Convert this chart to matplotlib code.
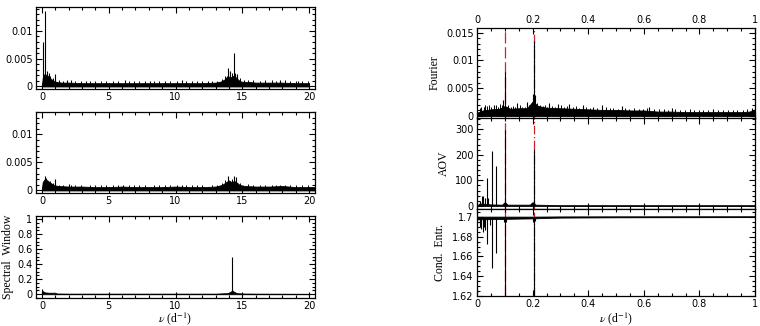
import numpy as np
import matplotlib
matplotlib.use("Agg")
import matplotlib.pyplot as plt
from matplotlib.ticker import MultipleLocator, FuncFormatter


# --- left column: wide-range spectra (0-20 c/d) ---
# noise band envelope (frequency knots, top of band)
f1 = [0.0, 0.05, 0.15, 0.3, 0.5, 0.7, 0.9, 1.1, 1.5, 2.0, 3, 4, 5, 6, 7, 8, 9, 10,
      11, 12, 13, 13.4, 13.7, 13.9, 14.1, 14.3, 14.5, 14.7, 14.9, 15.2, 15.6, 16,
      17, 18, 19, 20]
a1 = [0.0003, 0.0015, 0.0022, 0.0021, 0.0018, 0.0013, 0.001, 0.0008, 0.0007,
      0.0007, 0.0006, 0.0006, 0.0006, 0.0006, 0.0006, 0.0006, 0.0006, 0.0006,
      0.0006, 0.0006, 0.0007, 0.0009, 0.0013, 0.0019, 0.0016, 0.0019, 0.0017,
      0.0012, 0.0009, 0.0008, 0.0008, 0.0007, 0.0007, 0.0007, 0.0006, 0.0006]
s1_f = [0.1, 0.22, 0.35, 0.5, 1.0, 1.9, 3.3, 6.2, 8.1, 10.5, 12.4, 13.9, 14.05,
        14.35, 14.45, 14.6, 15.1, 17.8, 19.2]
s1_a = [0.008, 0.0135, 0.0027, 0.0025, 0.0022, 0.0012, 0.001, 0.0011, 0.001,
        0.0011, 0.001, 0.0033, 0.0028, 0.006, 0.0025, 0.0022, 0.0012, 0.0011,
        0.001]

f2 = [0.0, 0.05, 0.2, 0.4, 0.6, 0.8, 1.0, 1.2, 2, 3, 4, 5, 6, 7, 8, 9, 10, 11,
      12, 13, 13.5, 13.8, 14.0, 14.2, 14.4, 14.6, 14.8, 15.2, 16, 17, 18, 19,
      20, 20.5]
a2 = [0.0004, 0.0015, 0.002, 0.0018, 0.0014, 0.0011, 0.0009, 0.0008, 0.0007,
      0.0007, 0.0006, 0.0006, 0.0007, 0.0006, 0.0006, 0.0006, 0.0007, 0.0006,
      0.0006, 0.0007, 0.001, 0.0015, 0.0018, 0.0015, 0.0017, 0.0014, 0.001,
      0.0008, 0.0007, 0.0007, 0.0008, 0.0006, 0.0006, 0.0006]
s2_f = [0.2, 0.3, 1.0, 2.0, 6.1, 10.5, 13.95, 14.35, 14.5, 17.8]
s2_a = [0.0025, 0.0023, 0.002, 0.0011, 0.001, 0.001, 0.0025, 0.0026, 0.0024,
        0.001]

# small noise peaks on top of the band (same frequencies in both panels)
z_f = [0.6, 0.8, 1.3, 1.6, 2.2, 2.5, 2.9, 3.6, 4.0, 4.4, 4.8, 5.3, 5.7, 6.5,
       6.9, 7.3, 7.7, 8.4, 8.8, 9.2, 9.6, 10.1, 10.8, 11.2, 11.6, 12.0, 12.7,
       13.1, 13.5, 13.7, 14.2, 14.8, 15.4, 15.8, 16.3, 16.7, 17.2, 17.5, 18.2,
       18.6, 19.0, 19.5, 19.9]
z1_a = [0.0019, 0.0016, 0.0011, 0.001, 0.0011, 0.001, 0.0009, 0.001, 0.0009,
        0.001, 0.0009, 0.0009, 0.001, 0.0009, 0.001, 0.0009, 0.001, 0.0009,
        0.001, 0.0009, 0.001, 0.0009, 0.001, 0.001, 0.0009, 0.001, 0.0009,
        0.001, 0.0014, 0.0019, 0.0024, 0.0015, 0.0012, 0.0011, 0.001, 0.0011,
        0.0011, 0.001, 0.0011, 0.001, 0.0009, 0.001, 0.0009]
z2_a = [0.0017, 0.0014, 0.001, 0.001, 0.001, 0.0009, 0.0009, 0.001, 0.0009,
        0.0009, 0.0009, 0.0009, 0.001, 0.0009, 0.0009, 0.0009, 0.001, 0.0009,
        0.0009, 0.0009, 0.001, 0.0009, 0.0009, 0.001, 0.0009, 0.0009, 0.0009,
        0.001, 0.0013, 0.0018, 0.0021, 0.0014, 0.0011, 0.001, 0.0009, 0.001,
        0.001, 0.0009, 0.001, 0.0009, 0.0009, 0.001, 0.0009]

f3 = [0.0, 0.05, 0.2, 0.5, 1.0, 1.1, 2, 5, 10, 13, 13.9, 14.1, 14.25, 14.4,
      14.6, 15, 16, 20]
a3 = [0.06, 0.04, 0.025, 0.02, 0.02, 0.01, 0.008, 0.008, 0.008, 0.008, 0.015,
      0.03, 0.05, 0.03, 0.015, 0.01, 0.008, 0.006]
s3_f = [0.0, 14.25]
s3_a = [0.07, 0.49]

# --- right column: low-frequency zoom (0-1 c/d) ---
fr = [0, 0.02, 0.05, 0.08, 0.1, 0.12, 0.15, 0.18, 0.2, 0.22, 0.25, 0.3, 0.35,
      0.4, 0.45, 0.5, 0.55, 0.6, 0.65, 0.7, 0.75, 0.8, 0.85, 0.9, 0.95, 0.98,
      1.0]
ar = [0.0006, 0.001, 0.0012, 0.0013, 0.0018, 0.0013, 0.0014, 0.0014, 0.0026,
      0.0018, 0.0015, 0.0014, 0.0013, 0.0012, 0.0011, 0.0011, 0.001, 0.001,
      0.0008, 0.0008, 0.0007, 0.0007, 0.0007, 0.0007, 0.0007, 0.0008, 0.0012]
sr_f = [0.03, 0.06, 0.095, 0.102, 0.145, 0.18, 0.2, 0.204, 0.21, 0.26, 0.29,
        0.33, 0.38, 0.45, 0.52, 0.62, 0.7, 0.85, 0.99]
sr_a = [0.0019, 0.002, 0.0028, 0.008, 0.0024, 0.0026, 0.004, 0.0135, 0.0037,
        0.0024, 0.0022, 0.0022, 0.002, 0.0019, 0.0018, 0.0016, 0.0014, 0.0012,
        0.0015]
zr_f = [0.01, 0.015, 0.024, 0.036, 0.043, 0.051, 0.067, 0.074, 0.083, 0.09,
        0.113, 0.122, 0.131, 0.138, 0.154, 0.163, 0.171, 0.188, 0.195, 0.217,
        0.226, 0.236, 0.244, 0.252, 0.271, 0.28, 0.301, 0.312, 0.322, 0.345,
        0.357, 0.366, 0.393, 0.405, 0.418, 0.432, 0.463, 0.478, 0.49, 0.507,
        0.534, 0.548, 0.566, 0.583, 0.598, 0.611, 0.637, 0.655, 0.672, 0.688,
        0.713, 0.731, 0.748, 0.766, 0.781, 0.797, 0.814, 0.832, 0.867, 0.884,
        0.903, 0.921, 0.937, 0.956, 0.972]
zr_a = [0.0015, 0.0017, 0.0016, 0.0018, 0.002, 0.0017, 0.0019, 0.0016, 0.0021,
        0.002, 0.0019, 0.0016, 0.0018, 0.0017, 0.0019, 0.0017, 0.0016, 0.002,
        0.0022, 0.0024, 0.0019, 0.0018, 0.002, 0.0017, 0.0018, 0.0016, 0.0019,
        0.0017, 0.0018, 0.0016, 0.0018, 0.0015, 0.0017, 0.0015, 0.0016,
        0.0014, 0.0016, 0.0014, 0.0015, 0.0013, 0.0014, 0.0013, 0.0015,
        0.0012, 0.0013, 0.0014, 0.0012, 0.0012, 0.0013, 0.0011, 0.0012, 0.001,
        0.0011, 0.0012, 0.001, 0.0011, 0.001, 0.0011, 0.001, 0.0011, 0.001,
        0.0011, 0.001, 0.0011, 0.0012]

fa = [0, 0.01, 0.05, 0.09, 0.1, 0.11, 0.19, 0.2, 0.21, 0.3, 1.0]
aa = [2, 10, 6, 5, 15, 5, 5, 15, 5, 3, 3]
sa_f = [0.012, 0.018, 0.022, 0.028, 0.035, 0.04, 0.053, 0.069, 0.102, 0.206]
sa_a = [20, 40, 38, 30, 108, 30, 215, 158, 296, 224]

fc = [0, 0.05, 0.1, 0.15, 0.2, 0.25, 0.3, 0.5, 1.0]
c_lo = [1.6975, 1.6978, 1.698, 1.6983, 1.6985, 1.699, 1.6993, 1.6996, 1.6998]
c_hi = [1.7003, 1.7003, 1.7003, 1.7003, 1.7003, 1.7004, 1.7005, 1.7006, 1.7007]
sc_f = [0.012, 0.016, 0.02, 0.025, 0.03, 0.035, 0.045, 0.053, 0.069, 0.097,
        0.102, 0.106, 0.2, 0.206, 0.21]
sc_a = [1.69, 1.688, 1.685, 1.69, 1.687, 1.673, 1.692, 1.648, 1.664, 1.695,
        1.62, 1.695, 1.695, 1.62, 1.696]

marks = [0.102, 0.204]

W, H = 760, 326
plt.rcParams["mathtext.fontset"] = "stix"


def box(l, t, r, b):
    return [l / W, 1 - b / H, (r - l) / W, (b - t) / H]


def style(ax, xmaj, xmin, ymaj, ymin):
    ax.xaxis.set_major_locator(MultipleLocator(xmaj))
    ax.xaxis.set_minor_locator(MultipleLocator(xmin))
    ax.yaxis.set_major_locator(MultipleLocator(ymaj))
    ax.yaxis.set_minor_locator(MultipleLocator(ymin))
    ax.tick_params(which="both", direction="in", top=True, right=True,
                   labelsize=7, width=0.8, pad=2.5)
    ax.tick_params(which="major", length=4.5)
    ax.tick_params(which="minor", length=2.2)
    fmt = FuncFormatter(lambda v, p: "%g" % round(v, 6))
    ax.xaxis.set_major_formatter(fmt)
    ax.yaxis.set_major_formatter(fmt)
    for s in ax.spines.values():
        s.set_linewidth(0.9)


lab = dict(family="Liberation Serif", fontsize=8.5)
fig = plt.figure(figsize=(7.6, 3.26), dpi=100)

left = [(7, 89, f1, a1, s1_f, s1_a, z1_a, (-0.00045, 0.0143), 0.005, 0.001),
        (112, 193, f2, a2, s2_f, s2_a, z2_a, (-0.00045, 0.0140), 0.005, 0.001),
        (216, 298, f3, a3, s3_f, s3_a, None, (-0.05, 1.04), 0.2, 0.05)]
for i, (t, b, f, a, sf, sa, za, yl, ym, yn) in enumerate(left):
    ax = fig.add_axes(box(36, t, 315, b))
    ax.fill_between(f, 0, a, color="black", lw=0.6)
    ax.vlines(sf, 0, sa, color="black", lw=0.8)
    if za is not None:
        ax.vlines(z_f, 0, za, color="black", lw=0.7)
    ax.set_xlim(-0.45, 20.45)
    ax.set_ylim(*yl)
    style(ax, 5, 1, ym, yn)
    if i == 2:
        ax.set_ylabel("Spectral  Window", labelpad=2, **lab)
fig.text(175 / W, 1 - 319 / H, r"$\nu$ (d$^{-1}$)", ha="center", va="center",
         **lab)

# right column
axf = fig.add_axes(box(477, 28, 755, 118))
axf.fill_between(fr, 0, ar, color="black", lw=0.6)
axf.vlines(sr_f, 0, sr_a, color="black", lw=0.8)
axf.vlines(zr_f, 0, zr_a, color="black", lw=0.7)
axf.set_ylim(-0.00036, 0.01585)
style(axf, 0.2, 0.05, 0.005, 0.001)
axf.tick_params(labelbottom=False, labeltop=True)
axf.set_ylabel("Fourier", labelpad=4, **lab)

axa = fig.add_axes(box(477, 118, 755, 209))
axa.fill_between(fa, 0, aa, color="black", lw=0.6)
axa.vlines(sa_f, 0, sa_a, color="black", lw=0.8)
axa.set_ylim(-12, 344)
style(axa, 0.2, 0.05, 100, 20)
axa.tick_params(labelbottom=False)
axa.set_ylabel("AOV", labelpad=4, **lab)

axc = fig.add_axes(box(477, 209, 755, 296))
axc.fill_between(fc, c_lo, c_hi, color="black", lw=0.6)
axc.vlines(sc_f, 1.699, sc_a, color="black", lw=0.8)
axc.set_ylim(1.62, 1.708)
style(axc, 0.2, 0.05, 0.02, 0.005)
axc.set_ylabel("Cond.  Entr.", labelpad=4, **lab)
fig.text(616 / W, 1 - 319 / H, r"$\nu$ (d$^{-1}$)", ha="center", va="center",
         **lab)

for ax in (axf, axa, axc):
    ax.set_xlim(0, 1)
    ax.axvline(marks[0], color="#d62020", lw=0.9, ls=(0, (9, 3)), zorder=0)
    ax.axvline(marks[1], color="#d62020", lw=0.9, ls=(0, (7, 2, 1, 2)), zorder=0)

fig.savefig("out.png", dpi=100)
